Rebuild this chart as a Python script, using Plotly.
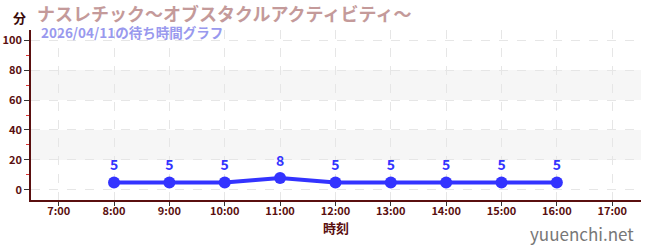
import plotly.graph_objects as go

hours = [8, 9, 10, 11, 12, 13, 14, 15, 16]
waits = [5, 5, 5, 8, 5, 5, 5, 5, 5]
tick_vals = [7, 8, 9, 10, 11, 12, 13, 14, 15, 16, 17]
tick_text = ["7:00", "8:00", "9:00", "10:00", "11:00", "12:00", "13:00", "14:00", "15:00", "16:00", "17:00"]
y_ticks = [0, 20, 40, 60, 80, 100]
bands = [(20, 40), (60, 80)]

FONT = "Noto Sans CJK JP"
AXIS = "#5a0f0f"

fig = go.Figure()
fig.add_trace(go.Scatter(
    x=hours, y=waits, mode="lines+markers+text",
    line=dict(color="#3333ff", width=4),
    marker=dict(color="#3333ff", size=12),
    text=[str(v) for v in waits], textposition="top center",
    textfont=dict(color="#3333ff", size=14, family=FONT, weight="bold"),
    hoverinfo="skip", cliponaxis=False,
))

for y0, y1 in bands:
    fig.add_shape(type="rect", xref="paper", x0=0, x1=1, yref="y", y0=y0, y1=y1,
                  fillcolor="#f6f6f6", line=dict(width=0), layer="below")

fig.update_layout(
    width=650, height=250,
    margin=dict(l=31, r=9, t=30, b=50),
    paper_bgcolor="white", plot_bgcolor="white",
    showlegend=False,
    font=dict(family=FONT, color=AXIS),
    xaxis=dict(
        range=[6.5, 17.52], tickmode="array", tickvals=tick_vals, ticktext=tick_text,
        automargin=False,
        showgrid=True, gridcolor="#e6e6e6", griddash="dash", gridwidth=1,
        showline=True, linecolor=AXIS, linewidth=1.5,
        ticks="outside", ticklen=4, tickcolor="#333333",
        ticklabelstandoff=-4,
        tickfont=dict(size=11, color=AXIS, family=FONT, weight="bold"),
        zeroline=False,
        title=dict(text="時刻", font=dict(size=13, color=AXIS, family=FONT, weight="bold"), standoff=4),
    ),
    yaxis=dict(
        range=[-6.7, 106.7], tickmode="array", tickvals=y_ticks,
        automargin=False,
        showgrid=True, gridcolor="#e6e6e6", griddash="dash", gridwidth=1,
        showline=True, linecolor=AXIS, linewidth=1.5,
        ticks="outside", ticklen=5, tickcolor="#333333",
        tickfont=dict(size=11, color=AXIS, family=FONT, weight="bold"),
        zeroline=False,
        minor=dict(tickvals=[10, 30, 50, 70, 90], ticks="outside", ticklen=3, tickcolor="#dd3333", showgrid=False),
    ),
)

W, H = 650, 250
L, R, T, B = 31, 9, 30, 50
pw, ph = W - L - R, H - T - B
def px(x):
    return (x - L) / pw
def py(y):
    return (H - B - y) / ph

fig.add_annotation(text="分", x=px(19), y=py(17), xref="paper", yref="paper", showarrow=False,
                   xanchor="center", yanchor="middle",
                   font=dict(size=13, color="#3a0a0a", family=FONT, weight="bold"))
fig.add_annotation(text="ナスレチック～オブスタクルアクティビティ～", x=px(35), y=py(13), xref="paper", yref="paper",
                   showarrow=False, xanchor="left", yanchor="middle",
                   font=dict(size=18, color="#c49a9a", family=FONT, weight="bold"))
fig.add_annotation(text="2026/04/11の待ち時間グラフ", x=px(39), y=py(32), xref="paper", yref="paper",
                   showarrow=False, xanchor="left", yanchor="middle",
                   font=dict(size=13.5, color="#9999ee", family=FONT, weight="bold"))
fig.add_annotation(text="yuuenchi.net", x=px(636), y=py(233), xref="paper", yref="paper",
                   showarrow=False, xanchor="right", yanchor="middle",
                   font=dict(size=17, color="#777777", family=FONT))

fig.write_html("out.html")
